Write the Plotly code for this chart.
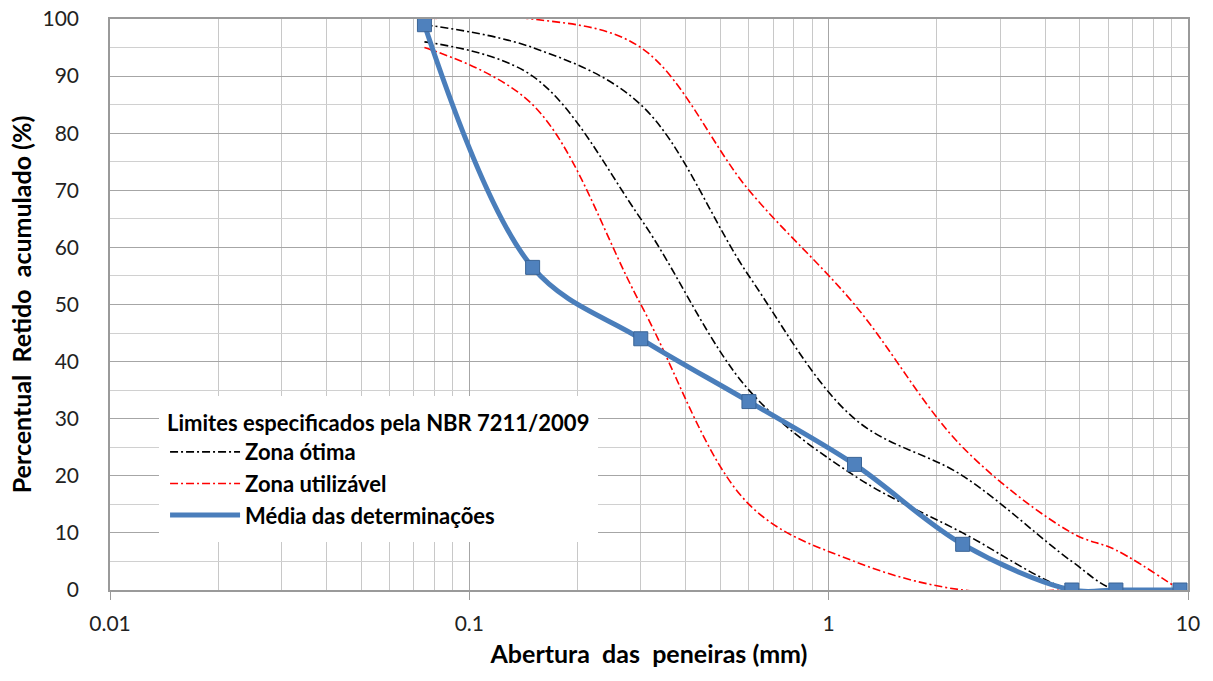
import plotly.graph_objects as go

# Sieve openings (mm)
sieves = [0.075, 0.15, 0.3, 0.6, 1.18, 2.36, 4.75, 6.3, 9.5]

# NBR 7211/2009 limits (cumulative % retained)
otima_inf = [96, 90, 65, 35, 20, 10, 0, 0, 0]
otima_sup = [99, 95, 85, 55, 30, 20, 5, 0, 0]
util_inf = [95, 85, 50, 15, 5, 0, 0, 0, 0]
util_sup = [100, 100, 95, 70, 50, 25, 10, 7, 0]

# Mean of determinations
media = [99, 56.5, 44, 33, 22, 8, 0, 0, 0]

# Tick labels
x_ticks = [0.01, 0.1, 1, 10]
x_ticklabels = ["0.01", "0.1", "1", "10"]

FONT = "Lato"
dash_pat = "8px,3px,2px,3px"
NB = "\u00a0"

fig = go.Figure()

fig.add_trace(go.Scatter(x=sieves, y=otima_sup, mode="lines", name="Zona ótima",
                         legendgroup="ot", showlegend=True,
                         line=dict(color="#000000", width=1.6, dash=dash_pat, shape="spline", smoothing=1.0)))
fig.add_trace(go.Scatter(x=sieves, y=otima_inf, mode="lines", name="Zona ótima",
                         legendgroup="ot", showlegend=False,
                         line=dict(color="#000000", width=1.6, dash=dash_pat, shape="spline", smoothing=1.0)))
fig.add_trace(go.Scatter(x=sieves, y=util_sup, mode="lines", name="Zona utilizável",
                         legendgroup="ut", showlegend=True,
                         line=dict(color="#FF0000", width=1.6, dash=dash_pat, shape="spline", smoothing=1.0)))
fig.add_trace(go.Scatter(x=sieves, y=util_inf, mode="lines", name="Zona utilizável",
                         legendgroup="ut", showlegend=False,
                         line=dict(color="#FF0000", width=1.6, dash=dash_pat, shape="spline", smoothing=1.0)))
fig.add_trace(go.Scatter(x=sieves, y=media, mode="lines", name="Média das determinações",
                         legendgroup="me", showlegend=True,
                         line=dict(color="#4A7EBB", width=5, shape="spline", smoothing=1.0)))
fig.add_trace(go.Scatter(x=sieves, y=media, mode="markers", name="Média das determinações",
                         legendgroup="me", showlegend=False,
                         marker=dict(symbol="square", size=14, color="#4F81BD",
                                     line=dict(color="#3A6496", width=1))))

fig.update_layout(
    width=1213, height=681,
    paper_bgcolor="white", plot_bgcolor="white",
    margin=dict(l=110, r=25, t=19, b=91, autoexpand=False),
    font=dict(family=FONT, color="#222222"),
    showlegend=True,
    legend=dict(
        x=0.0455, y=0.339, xanchor="left", yanchor="top",
        bgcolor="white", bordercolor="white", borderwidth=6,
        font=dict(family=FONT, size=22, color="black", weight="bold"),
        title=dict(text="Limites especificados pela NBR 7211/2009",
                   font=dict(family=FONT, size=22, color="black", weight="bold")),
        itemwidth=70, tracegroupgap=0,
    ),
    xaxis=dict(
        type="log", range=[-2, 1], automargin=False,
        tickvals=x_ticks, ticktext=x_ticklabels,
        showgrid=True, gridcolor="#A6A6A6", gridwidth=1.3,
        minor=dict(dtick="D1", showgrid=True, gridcolor="#C8C8C8", gridwidth=1.3),
        showline=True, linecolor="#9A9A9A", linewidth=1.5, mirror=True,
        ticks="outside", ticklen=8, tickcolor="#9A9A9A",
        tickfont=dict(family=FONT, size=21, color="#222222"),
        ticklabelstandoff=6, ticklabeloverflow="allow",
        title=dict(text=f"Abertura{NB}{NB}das{NB}{NB}peneiras{NB}(mm)",
                   font=dict(family=FONT, size=25, color="black", weight="bold"),
                   standoff=12),
        zeroline=False,
    ),
    yaxis=dict(
        range=[0, 100], dtick=10, automargin=False,
        showgrid=True, gridcolor="#A6A6A6", gridwidth=1.3,
        minor=dict(dtick=5, showgrid=True, gridcolor="#D0D0D0", gridwidth=1.3),
        showline=True, linecolor="#9A9A9A", linewidth=1.5, mirror=True,
        ticks="", ticklabelstandoff=25, ticklabeloverflow="allow",
        tickfont=dict(family=FONT, size=21, color="#222222"),
        title=dict(text=f"Percentual{NB}{NB}Retido{NB}{NB}acumulado{NB}(%)",
                   font=dict(family=FONT, size=25, color="black", weight="bold"),
                   standoff=4),
        zeroline=False,
    ),
)

# Remove the browser's default 8px body margin so the figure fills the window.
fig.write_html("out.html", config={"displayModeBar": False},
               post_script="document.body.style.margin='0';")
